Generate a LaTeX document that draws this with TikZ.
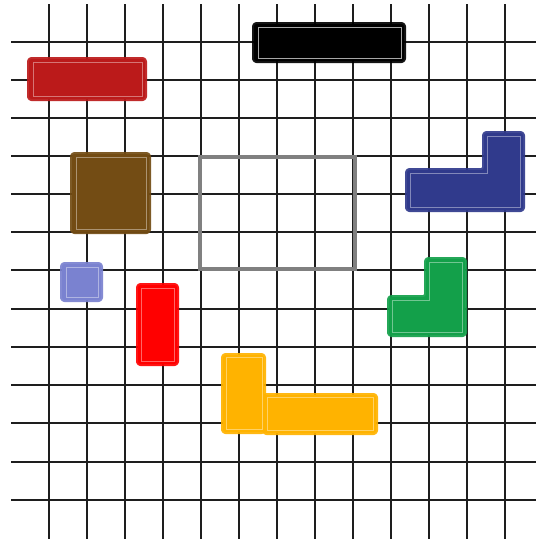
\documentclass[tikz,border=0pt]{standalone}
\usetikzlibrary{calc}
\definecolor{gridc}{RGB}{30,30,30}
\definecolor{darkred}{RGB}{187,26,26}
\definecolor{blackc}{RGB}{0,0,0}
\definecolor{brownc}{RGB}{115,76,20}
\definecolor{periw}{RGB}{122,130,208}
\definecolor{redc}{RGB}{255,0,0}
\definecolor{orangec}{RGB}{255,179,0}
\definecolor{greenc}{RGB}{19,160,74}
\definecolor{navyc}{RGB}{48,58,140}
\definecolor{grayc}{RGB}{128,128,128}
\tikzset{
  gridline/.style={draw=gridc, line width=1.3pt},
  piece/.style={fill=#1, draw=#1, draw opacity=0.92, line width=4pt, rounded corners=2.5pt, line join=round},
  inner/.style={draw=white, draw opacity=0.4, line width=0.9pt},
  frame/.style={draw=grayc, line width=4pt}
}
\begin{document}
\begin{tikzpicture}[x=1pt,y=-1pt]
\path[use as bounding box, fill=white] (0,0) rectangle (536,539);
% grid
\foreach \gx in {49,87,125,163,201,239,277,315,353,391,429,467,505}
  \draw[gridline] (\gx,4) -- (\gx,539);
\foreach \gy in {42,80,118,156,194,232,270,309,347,385,423,462,500}
  \draw[gridline] (11,\gy) -- (536,\gy);
% gray frame
\draw[frame] (200,157) rectangle (355,269);
% dark red bar
\draw[piece=darkred] (29,59) rectangle (145,99);
\draw[inner] (33,62) rectangle (142,96);
% black bar
\draw[piece=blackc] (254,24) rectangle (404,61);
\draw[inner,draw=gray!70,draw opacity=1] (258,27) rectangle (401,58);
% brown square
\draw[piece=brownc] (72,154) rectangle (149,232);
\draw[inner] (76,157) rectangle (146,229);
% periwinkle square
\draw[piece=periw] (62,264) rectangle (101,300);
\draw[inner] (66,267) rectangle (98,297);
% red rectangle
\draw[piece=redc] (138,285) rectangle (177,364);
\draw[inner] (141,288) rectangle (174,361);
% orange L (two blocks)
\draw[piece=orangec] (264,395) rectangle (376,433);
\draw[piece=orangec] (223,355) rectangle (264,432);
\draw[inner] (226,357) rectangle (262,429);
\draw[inner] (267,397) rectangle (373,430);
% green L
\draw[piece=greenc] (426,259) -- (465,259) -- (465,335) -- (389,335) -- (389,297) -- (426,297) -- cycle;
\draw[inner] (429,262) -- (462,262) -- (462,332) -- (392,332) -- (392,300) -- (429,300) -- cycle;
% navy L
\draw[piece=navyc] (407,170) -- (484,170) -- (484,133) -- (523,133) -- (523,210) -- (407,210) -- cycle;
\draw[inner] (410,173) -- (487,173) -- (487,136) -- (520,136) -- (520,207) -- (410,207) -- cycle;
\end{tikzpicture}
\end{document}
